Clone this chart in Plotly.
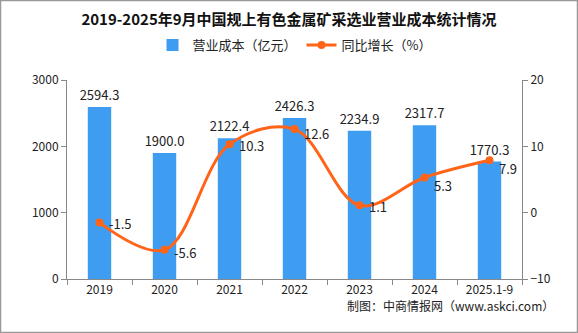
import plotly.graph_objects as go

categories = ["2019", "2020", "2021", "2022", "2023", "2024", "2025.1-9"]
cost = [2594.3, 1900.0, 2122.4, 2426.3, 2234.9, 2317.7, 1770.3]
growth = [-1.5, -5.6, 10.3, 12.6, 1.1, 5.3, 7.9]

W, H = 578, 333
L, R, T, B = 67, 56, 80, 54
pw, ph = W - L - R, H - T - B

FONT = "Noto Sans CJK SC"
BLUE = "#3E9DF0"
ORANGE = "#FF6418"
GRAY = "#888888"

fig = go.Figure()
fig.add_trace(go.Bar(
    x=categories, y=cost, name="营业成本（亿元）",
    marker=dict(color=BLUE, line=dict(width=0)), width=0.36,
    text=[f"{v:.1f}" for v in cost], textposition="outside",
    constraintext="none",
    textfont=dict(size=13, color="#222222", family=FONT),
    cliponaxis=False, yaxis="y",
))
fig.add_trace(go.Scatter(
    x=categories, y=growth, name="同比增长（%）", yaxis="y2",
    mode="lines+markers",
    line=dict(color=ORANGE, width=3, shape="spline", smoothing=1.0),
    marker=dict(color=ORANGE, size=8),
    cliponaxis=False,
))

# growth value labels, to the right of each point (x given as category index)
yshifts = [-1, -3, -1, -4, -1, -8, -8]
for i, (g, ys) in enumerate(zip(growth, yshifts)):
    fig.add_annotation(x=i, y=g, xref="x", yref="y2", text=f"{g:.1f}",
                       showarrow=False, xanchor="left", yanchor="middle",
                       xshift=7, yshift=ys,
                       font=dict(size=13, color="#222222", family=FONT))

# footer
fig.add_annotation(text="制图：中商情报网（www.askci.com）", xref="paper", yref="paper",
                   x=(556 - L) / pw, y=(H - B - 305) / ph, xanchor="right", yanchor="middle",
                   showarrow=False, font=dict(size=12, color="#222222", family=FONT))

# outer border
fig.add_shape(type="rect", xref="paper", yref="paper",
              x0=(0.5 - L) / pw, x1=(W - 0.5 - L) / pw,
              y0=(H - B - (H - 0.5)) / ph, y1=(H - B - 0.5) / ph,
              line=dict(color="#999999", width=1.5), fillcolor="rgba(0,0,0,0)")

axis_common = dict(showgrid=False, zeroline=False, showline=True, linecolor=GRAY,
                   linewidth=1, ticks="outside", tickcolor=GRAY, ticklen=5,
                   tickfont=dict(size=12, color="#222222", family=FONT))

fig.update_layout(
    width=W, height=H, margin=dict(l=L, r=R, t=T, b=B),
    paper_bgcolor="white", plot_bgcolor="white",
    font=dict(family=FONT, color="#222222"),
    title=dict(text="<b>2019-2025年9月中国规上有色金属矿采选业营业成本统计情况</b>",
               x=0.5, xanchor="center", y=1 - 20 / H, yanchor="middle",
               font=dict(size=15, color="#111111", family=FONT)),
    legend=dict(orientation="h", x=0.5, xanchor="center",
                y=(H - B - 45) / ph, yanchor="middle",
                font=dict(size=13, family=FONT, color="#222222"),
                bgcolor="rgba(0,0,0,0)", itemwidth=30),
    xaxis=dict(**axis_common, type="category", tickson="boundaries",
               range=[-0.5, len(categories) - 0.5]),
    yaxis=dict(**axis_common, range=[0, 3000], dtick=1000),
    yaxis2=dict(**axis_common, overlaying="y", side="right", range=[-10, 20], dtick=10),
    showlegend=True,
)

fig.write_html("out.html")
